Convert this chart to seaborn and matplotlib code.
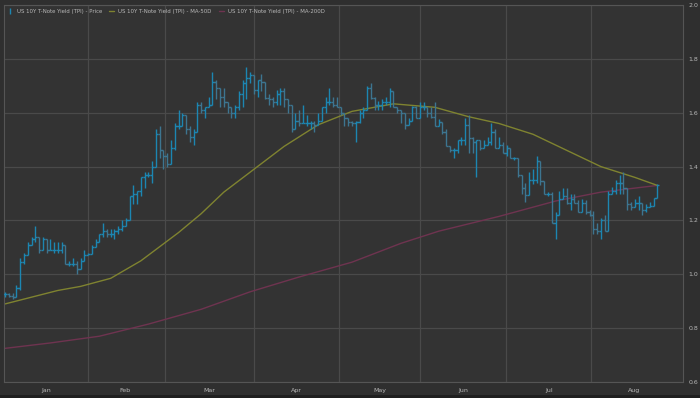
import numpy as np
import pandas as pd
import seaborn as sns
import matplotlib
matplotlib.use("Agg")
import matplotlib.pyplot as plt
from matplotlib.lines import Line2D
from matplotlib.patches import Rectangle

# ---------------- data ----------------
close_jan = [0.925,0.92,0.915,0.95,1.045,1.07,1.11,1.13,1.14,1.09,1.13,1.09,1.09,1.09,1.09,1.11,1.04,1.04,1.04,1.02,1.05,1.07,1.075,1.10,1.12,1.15,1.16,1.15]
high_jan  = [0.935,0.93,0.93,0.96,1.06,1.08,1.12,1.14,1.18,1.14,1.14,1.12,1.13,1.12,1.12,1.12,1.11,1.05,1.06,1.05,1.06,1.09,1.08,1.11,1.13,1.15,1.19,1.17]
low_jan   = [0.915,0.915,0.91,0.92,0.94,1.04,1.09,1.12,1.12,1.08,1.09,1.08,1.09,1.08,1.08,1.08,1.04,1.03,1.03,1.0,1.04,1.05,1.07,1.09,1.11,1.13,1.14,1.14]

close_feb = [1.15,1.16,1.17,1.18,1.20,1.29,1.30,1.31,1.36,1.37,1.37,1.40,1.52,1.46,1.44,1.41,1.47,1.55,1.55,1.59,1.54,1.51,1.53,1.63,1.61,1.62,1.63,1.715,1.69,1.66]
high_feb  = [1.17,1.17,1.18,1.20,1.21,1.29,1.33,1.31,1.36,1.38,1.38,1.42,1.54,1.55,1.45,1.45,1.50,1.56,1.61,1.60,1.59,1.55,1.54,1.64,1.64,1.62,1.66,1.75,1.72,1.68]
low_feb   = [1.14,1.13,1.15,1.16,1.19,1.22,1.26,1.26,1.29,1.32,1.36,1.34,1.40,1.43,1.39,1.40,1.41,1.46,1.54,1.56,1.52,1.49,1.48,1.55,1.60,1.58,1.63,1.64,1.65,1.62]

close_mar = [1.64,1.62,1.60,1.62,1.67,1.71,1.73,1.74,1.685,1.72,1.715,1.655,1.65,1.64,1.67,1.68,1.65,1.63,1.54,1.57,1.56,1.56,1.56,1.56,1.555,1.57,1.62,1.64]
high_mar  = [1.69,1.63,1.62,1.63,1.68,1.72,1.77,1.75,1.74,1.72,1.745,1.68,1.67,1.66,1.685,1.69,1.69,1.645,1.62,1.60,1.61,1.63,1.59,1.57,1.57,1.60,1.62,1.66]
low_mar   = [1.62,1.60,1.58,1.58,1.61,1.62,1.65,1.71,1.67,1.66,1.68,1.65,1.63,1.62,1.63,1.63,1.62,1.60,1.53,1.55,1.55,1.56,1.55,1.54,1.53,1.56,1.58,1.60]

close_may = [1.64,1.63,1.62,1.60,1.58,1.565,1.56,1.565,1.60,1.61,1.69,1.655,1.63,1.63,1.64,1.64,1.68,1.62,1.61,1.60,1.555,1.57,1.62,1.58,1.62,1.62,1.60,1.585,1.55,1.565,1.53]
high_may  = [1.69,1.66,1.66,1.61,1.60,1.58,1.57,1.57,1.61,1.62,1.70,1.71,1.66,1.645,1.65,1.66,1.69,1.665,1.62,1.61,1.60,1.58,1.625,1.625,1.64,1.64,1.62,1.62,1.64,1.575,1.56]
low_may   = [1.63,1.62,1.62,1.59,1.55,1.55,1.55,1.49,1.56,1.58,1.61,1.65,1.61,1.61,1.61,1.63,1.62,1.62,1.60,1.56,1.54,1.56,1.58,1.58,1.58,1.61,1.585,1.58,1.55,1.55,1.52]

close_jun = [1.475,1.46,1.46,1.50,1.50,1.555,1.505,1.49,1.50,1.47,1.48,1.49,1.53,1.47,1.48,1.45,1.47,1.43,1.43,1.37,1.32,1.295,1.35,1.35,1.42,1.345,1.30,1.30,1.19]
high_jun  = [1.54,1.47,1.47,1.50,1.51,1.58,1.59,1.51,1.50,1.50,1.50,1.51,1.56,1.54,1.51,1.49,1.48,1.47,1.435,1.43,1.37,1.34,1.38,1.39,1.44,1.355,1.33,1.305,1.305]
low_jun   = [1.475,1.455,1.43,1.45,1.48,1.48,1.45,1.45,1.36,1.46,1.47,1.48,1.48,1.47,1.47,1.455,1.44,1.43,1.425,1.36,1.30,1.27,1.32,1.335,1.34,1.33,1.30,1.29,1.19]

close_aug = [1.22,1.28,1.29,1.265,1.28,1.265,1.23,1.265,1.23,1.22,1.17,1.16,1.20,1.16,1.30,1.31,1.34,1.34,1.32,1.26,1.25,1.265,1.265,1.24,1.25,1.255,1.285,1.33]
high_aug  = [1.23,1.31,1.32,1.32,1.30,1.30,1.275,1.28,1.275,1.24,1.235,1.19,1.21,1.22,1.31,1.325,1.35,1.37,1.38,1.31,1.27,1.28,1.29,1.26,1.26,1.27,1.285,1.335]
low_aug   = [1.13,1.22,1.29,1.26,1.24,1.265,1.23,1.23,1.225,1.215,1.15,1.15,1.13,1.16,1.19,1.30,1.30,1.30,1.30,1.24,1.24,1.25,1.24,1.22,1.23,1.25,1.255,1.285]

ma50_idx = [0, 7, 14, 20, 28, 36, 46, 52, 58, 66, 74, 83, 92, 103, 114, 123, 131, 140, 149, 158, 167, 173]
ma50_val = [0.89, 0.915, 0.94, 0.955, 0.985, 1.05, 1.155, 1.225, 1.305, 1.39, 1.475, 1.555, 1.605, 1.633, 1.62, 1.585, 1.56, 1.52, 1.46, 1.40, 1.36, 1.33]

ma200_idx = [0, 12, 25, 38, 52, 65, 78, 92, 105, 115, 131, 146, 158, 173]
ma200_val = [0.725, 0.745, 0.77, 0.815, 0.87, 0.935, 0.99, 1.045, 1.115, 1.16, 1.215, 1.272, 1.305, 1.33]

months = ["Jan", "Feb", "Mar", "Apr", "May", "Jun", "Jul", "Aug"]
month_centers = [10.9, 31.8, 54.1, 77.2, 99.5, 121.5, 144.3, 166.8]
month_bounds = [22.0, 42.4, 66.0, 88.6, 110.1, 132.9, 155.4]
yticks = [0.6, 0.8, 1.0, 1.2, 1.4, 1.6, 1.8, 2.0]

# ---------------- build frames ----------------
close = np.array(close_jan + close_feb + close_mar + close_may + close_jun + close_aug)
high = np.array(high_jan + high_feb + high_mar + high_may + high_jun + high_aug)
low = np.array(low_jan + low_feb + low_mar + low_may + low_jun + low_aug)
openp = np.concatenate([[close[0]], close[:-1]])
high = np.maximum(np.maximum(high, close), openp)
low = np.minimum(np.minimum(low, close), openp)
idx = np.arange(len(close))
ohlc = pd.DataFrame({"i": idx, "open": openp, "high": high, "low": low, "close": close})
ma50 = pd.DataFrame({"i": ma50_idx, "v": ma50_val})
ma200 = pd.DataFrame({"i": ma200_idx, "v": ma200_val})

# ---------------- style ----------------
sns.set_theme(style="dark")
BG = "#333333"
FIG_BG = "#2f2f2f"
GRID = "#4a4a4a"
TXT = "#b8b8b8"
UP = "#1c86b2"
DOWN = "#3d7590"
C50 = "#7f8330"
C200 = "#6f3350"
plt.rcParams["font.family"] = ["DejaVu Sans"]

fig = plt.figure(figsize=(7.0, 3.98), dpi=100, facecolor=FIG_BG)
ax = fig.add_axes([4/700, 1 - 382/398, 679/700, 377/398])
ax.set_facecolor(BG)

for b in month_bounds:
    ax.axvline(b, color=GRID, lw=0.9, zorder=0)
for t in yticks:
    ax.axhline(t, color=GRID, lw=0.9, zorder=0)

sns.lineplot(data=ma200, x="i", y="v", ax=ax, color=C200, lw=1.0, zorder=2)
sns.lineplot(data=ma50, x="i", y="v", ax=ax, color=C50, lw=1.0, zorder=2)

up = ohlc["close"] >= ohlc["open"]
for mask, col in ((up, UP), (~up, DOWN)):
    d = ohlc[mask]
    ax.vlines(d["i"], d["low"], d["high"], color=col, lw=1.0, zorder=3)
    ax.hlines(d["open"], d["i"] - 0.55, d["i"], color=col, lw=1.0, zorder=3)
    ax.hlines(d["close"], d["i"], d["i"] + 0.55, color=col, lw=1.0, zorder=3)

ax.set_xlim(-0.3, 179.8)
ax.set_ylim(0.6, 2.0)
ax.set_xlabel("")
ax.set_ylabel("")
ax.set_xticks(month_centers)
ax.set_xticklabels(months)
ax.set_yticks(yticks)
ax.set_yticklabels([f"{t:.1f}" for t in yticks])
ax.yaxis.tick_right()
ax.tick_params(axis="both", length=0, colors=TXT, labelsize=4.5)
ax.tick_params(axis="x", pad=4)
ax.tick_params(axis="y", pad=4)
for s in ax.spines.values():
    s.set_color("#555555")
    s.set_linewidth(0.8)

handles = [
    Line2D([0], [0], color=UP, lw=1.0, marker="|", markersize=4, linestyle="none"),
    Line2D([0], [0], color=C50, lw=1.0),
    Line2D([0], [0], color=C200, lw=1.0),
]
labels = [
    "US 10Y T-Note Yield (TPI) - Price",
    "US 10Y T-Note Yield (TPI) - MA-50D",
    "US 10Y T-Note Yield (TPI) - MA-200D",
]
leg = ax.legend(handles, labels, loc="upper left", ncol=3, frameon=False,
                fontsize=3.9, handlelength=1.0, handletextpad=0.7, columnspacing=1.3,
                borderaxespad=0.25, bbox_to_anchor=(0.0, 1.0))
for t in leg.get_texts():
    t.set_color(TXT)

fig.add_artist(Rectangle((0, 0), 1, 3/398, transform=fig.transFigure,
                         facecolor="#1f1f1f", edgecolor="none"))

fig.savefig("out.png", dpi=100, facecolor=FIG_BG)
